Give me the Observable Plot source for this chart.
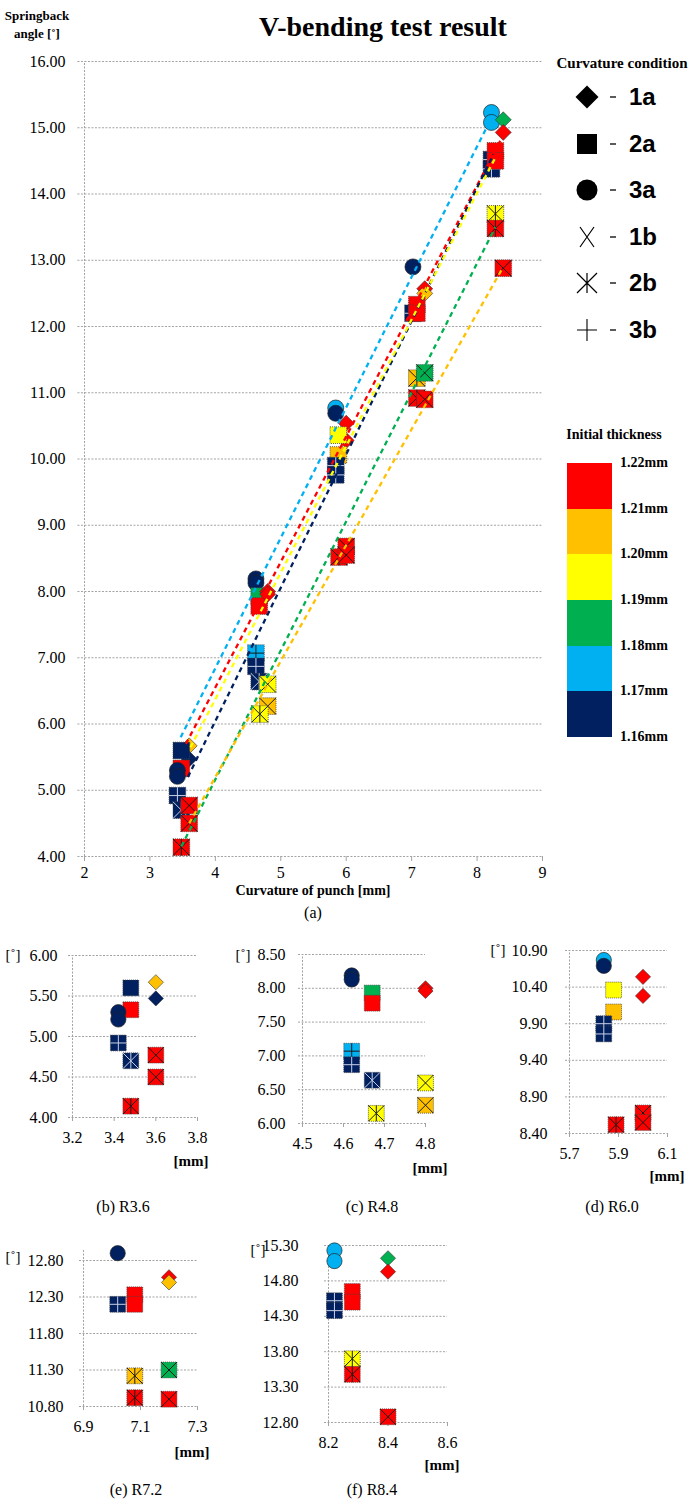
<!DOCTYPE html>
<html><head><meta charset="utf-8">
<script src="https://cdn.jsdelivr.net/npm/d3@7"></script>
<script src="https://cdn.jsdelivr.net/npm/@observablehq/plot@0.6"></script>
<style>
html,body{margin:0;padding:0;background:#fff;}
#root{position:relative;width:700px;height:1506px;background:#fff;overflow:hidden;font-family:'Liberation Serif','Times New Roman',serif;color:#000;}
.t{position:absolute;white-space:nowrap;line-height:1;transform:translate(-50%,-50%);}
.l{position:absolute;white-space:nowrap;line-height:1;transform:translate(0,-50%);}
</style></head>
<body><div id="root"></div>
<script>
// ---------------- DATA ----------------
const thicknessLevels = ["1.22mm","1.21mm","1.20mm","1.19mm","1.18mm","1.17mm","1.16mm"];
const thicknessColors = ["#FF0000","#FFC000","#FFFF00","#00B050","#00B0F0","#002060"];
const conditionNames = ["1a","2a","3a","1b","2b","3b"];

const pointGroup = [
  "R3.6","R3.6","R3.6","R3.6","R3.6","R3.6","R3.6","R3.6","R3.6","R3.6","R3.6",
  "R4.8","R4.8","R4.8","R4.8","R4.8","R4.8","R4.8","R4.8","R4.8","R4.8","R4.8","R4.8",
  "R6.0","R6.0","R6.0","R6.0","R6.0","R6.0","R6.0","R6.0","R6.0","R6.0","R6.0",
  "R7.2","R7.2","R7.2","R7.2","R7.2","R7.2","R7.2","R7.2","R7.2","R7.2",
  "R8.4","R8.4","R8.4","R8.4","R8.4","R8.4","R8.4","R8.4","R8.4","R8.4","R8.4"
];
const pointCondition = [
  "1a","1a","2a","2a","3a","3a","3b","2b","1b","1b","2b",
  "3a","3a","2a","2a","1a","1a","3b","3b","2b","1b","1b","2b",
  "3a","3a","1a","1a","2a","2a","3b","3b","2b","1b","1b",
  "3a","1a","1a","3b","2a","2a","2b","1b","2b","1b",
  "3a","3a","1a","1a","3b","3b","2a","2a","2b","2b","1b"
];
// index into thicknessColors (0 = 1.21-1.22mm ... 5 = 1.16-1.17mm)
const pointBand = [
  1,5,5,0,5,5,5,5,0,0,0,
  5,5,3,0,0,0,4,5,5,2,1,2,
  4,5,0,0,2,1,5,5,0,0,0,
  5,0,1,5,0,0,1,3,0,0,
  4,4,3,0,5,5,0,0,2,0,0
];
const pointX = [
  3.60,3.60,3.48,3.48,3.42,3.42,3.42,3.48,3.60,3.60,3.48,
  4.62,4.62,4.67,4.67,4.80,4.80,4.62,4.62,4.67,4.80,4.80,4.68,
  5.84,5.84,6.00,6.00,5.88,5.88,5.84,5.84,5.89,6.00,6.00,
  7.02,7.20,7.20,7.02,7.08,7.08,7.08,7.20,7.08,7.20,
  8.22,8.22,8.40,8.40,8.22,8.22,8.28,8.28,8.28,8.28,8.40
];
const pointY = [
  5.67,5.47,5.60,5.33,5.30,5.21,4.92,4.70,4.77,4.50,4.14,
  8.19,8.13,7.93,7.78,8.00,7.96,7.07,6.87,6.64,6.60,6.27,6.15,
  10.77,10.69,10.54,10.28,10.36,10.06,9.90,9.76,8.52,8.68,8.55,
  12.90,12.57,12.50,12.20,12.33,12.20,11.22,11.30,10.92,10.90,
  15.23,15.08,15.12,14.93,14.52,14.38,14.65,14.50,13.70,13.48,12.88
];

// dashed trend lines (one per thickness colour)
const trendBand = [4,0,5,2,3,1];
const trendX1 = [3.47,3.55,3.58,3.62,3.48,3.60];
const trendY1 = [5.80,5.70,5.20,5.65,4.15,4.50];
const trendX2 = [8.22,8.38,8.25,8.28,8.28,8.40];
const trendY2 = [15.15,14.85,14.60,14.55,13.50,12.90];

const mainXTicks = [2,3,4,5,6,7,8,9];
const mainYTicks = [4,5,6,7,8,9,10,11,12,13,14,15,16];

const subNames = ["R3.6","R4.8","R6.0","R7.2","R8.4"];
const subCaptions = ["(b) R3.6","(c) R4.8","(d) R6.0","(e) R7.2","(f) R8.4"];
const subXDomains = [[3.2,3.8],[4.5,4.8],[5.7,6.1],[6.9,7.3],[8.2,8.6]];
const subYDomains = [[4,6],[6,8.5],[8.4,10.9],[10.8,12.8],[12.8,15.3]];
const subXTicks = [[3.2,3.4,3.6,3.8],[4.5,4.6,4.7,4.8],[5.7,5.9,6.1],[6.9,7.1,7.3],[8.2,8.4,8.6]];
const subYTicks = [[4,4.5,5,5.5,6],[6,6.5,7,7.5,8,8.5],[8.4,8.9,9.4,9.9,10.4,10.9],[10.8,11.3,11.8,12.3,12.8],[12.8,13.3,13.8,14.3,14.8,15.3]];

// ---------------- LAYOUT ----------------
const subLayout = [
  {fx:[72,197],  fy:[955,1117], gap:15, deg:[13,955],  mm:[191,1161], cap:[123,1207], axisTop:null},
  {fx:[302,425], fy:[954,1123], gap:17, deg:[243,955], mm:[430,1168], cap:[372,1207], axisTop:null},
  {fx:[569,667], fy:[950,1133], gap:22, deg:[498,950], mm:[667,1176], cap:[612,1207], axisTop:null},
  {fx:[83,197],  fy:[1260,1406],gap:20, deg:[13,1257], mm:[192,1452], cap:[136,1490], axisTop:12.95},
  {fx:[328,447], fy:[1245,1422],gap:30, deg:[258,1250],mm:[442,1465], cap:[372,1490], axisTop:null}
];
const SERIF = "Liberation Serif";

const root = document.getElementById("root");
function txt(s, x, y, cls, css) {
  const el = document.createElement("div");
  el.className = cls || "t";
  el.textContent = s;
  el.style.cssText = `left:${x}px;top:${y}px;` + (css || "");
  root.appendChild(el);
  return el;
}
function icon(x, y, w, h, inner) {
  const el = document.createElement("div");
  el.style.cssText = `position:absolute;left:${x - w/2}px;top:${y - h/2}px;width:${w}px;height:${h}px;`;
  el.innerHTML = `<svg width="${w}" height="${h}" viewBox="${-w/2} ${-h/2} ${w} ${h}" style="display:block">${inner}</svg>`;
  root.appendChild(el);
}
function svgStyle(left, top) {
  return `position:absolute;left:${left}px;top:${top}px;overflow:visible;background:transparent;font-family:'Liberation Serif',serif;font-size:16px;color:#000;`;
}

// custom line symbols drawn inside the square markers
const symX = {draw(c, size){ const r = Math.sqrt(size)/2; c.moveTo(-r,-r); c.lineTo(r,r); c.moveTo(r,-r); c.lineTo(-r,r); }};
const symZhe = {draw(c, size){ const r = Math.sqrt(size)/2; c.moveTo(-r,-r); c.lineTo(r,r); c.moveTo(r,-r); c.lineTo(-r,r); c.moveTo(0,-r); c.lineTo(0,r); }};
const symPlus = {draw(c, size){ const r = Math.sqrt(size)/2; c.moveTo(-r,0); c.lineTo(r,0); c.moveTo(0,-r); c.lineTo(0,r); }};
const overlaySym = {"1b": symX, "2b": symZhe, "3b": symPlus};

const points = pointX.map((x, i) => ({
  x, y: pointY[i], cond: pointCondition[i], group: pointGroup[i],
  fill: thicknessColors[pointBand[i]],
  line: pointBand[i] === 5 ? "#c9d0e6" : "#1a1a1a"
}));
const trends = trendX1.map((x1, i) => ({x1, y1: trendY1[i], x2: trendX2[i], y2: trendY2[i], color: thicknessColors[trendBand[i]]}));

function pointMarks(data, s) {
  const marks = [];
  for (const d of data) {
    if (d.cond === "1a") {
      marks.push(Plot.dot([d], {x: "x", y: "y", symbol: "diamond2", r: 7.2*s, fill: "fill", stroke: "#333", strokeWidth: 0.6}));
    } else if (d.cond === "3a") {
      marks.push(Plot.dot([d], {x: "x", y: "y", symbol: "circle", r: 8*s, fill: "fill", stroke: "#222", strokeWidth: 0.7}));
    } else {
      marks.push(Plot.dot([d], {x: "x", y: "y", symbol: "square", r: 9.4*s, fill: "fill", stroke: "#444", strokeWidth: 0.8, strokeDasharray: "1,1"}));
      if (overlaySym[d.cond]) marks.push(Plot.dot([d], {x: "x", y: "y", symbol: overlaySym[d.cond], r: 9.4*s, fill: "none", stroke: "line", strokeWidth: 1}));
    }
  }
  return marks;
}

const gridStroke = "#a3a3a3";

// ---------------- MAIN CHART ----------------
const mainPlot = Plot.plot({
  width: 560, height: 900,
  marginLeft: 84, marginRight: 18, marginTop: 61, marginBottom: 44,
  x: {domain: [2, 9]}, y: {domain: [4, 16]},
  color: {type: "identity"},
  style: svgStyle(0, 0),
  marks: [
    Plot.ruleY(mainYTicks, {x1: 1.9, x2: 9, stroke: gridStroke, strokeDasharray: "2,1.5"}),
    Plot.ruleX([2], {y1: 4, y2: 16, stroke: gridStroke, strokeDasharray: "2,1.5"}),
    Plot.ruleX(mainXTicks, {y1: 4, y2: 3.925, stroke: gridStroke}),
    Plot.axisY(mainYTicks, {tickSize: 0, tickPadding: 19, tickFormat: d3.format(".2f"), label: null, fontFamily: SERIF, fontSize: 16}),
    Plot.axisX(mainXTicks, {tickSize: 0, tickPadding: 10, label: null, fontFamily: SERIF, fontSize: 16}),
    ...pointMarks(points, 1),
    Plot.link(trends, {x1: "x1", y1: "y1", x2: "x2", y2: "y2", stroke: "color", strokeWidth: 2.3, strokeDasharray: "5,4"})
  ]
});
root.appendChild(mainPlot);

// texts of main chart
txt("Springback", 37, 15, "t", "font-weight:bold;font-size:13px;");
txt("angle [˚]", 37, 33, "t", "font-weight:bold;font-size:13px;");
txt("V-bending test result", 383, 27, "t", "font-weight:bold;font-size:28px;");
txt("Curvature of punch [mm]", 313, 891, "t", "font-weight:bold;font-size:14px;");
txt("(a)", 313, 913, "t", "font-size:16px;");

// condition legend
txt("Curvature condition", 622, 63, "t", "font-weight:bold;font-size:15px;");
const legendIcons = [
  `<polygon points="0,-11.5 11.5,0 0,11.5 -11.5,0" fill="#000"/>`,
  `<rect x="-10" y="-10" width="20" height="20" fill="#000"/>`,
  `<circle r="10.5" fill="#000"/>`,
  `<path d="M-7,-10L7,10M7,-10L-7,10" stroke="#000" stroke-width="1.2" fill="none"/>`,
  `<path d="M-10,-10L10,10M10,-10L-10,10M0,-10L0,10" stroke="#000" stroke-width="1.2" fill="none"/>`,
  `<path d="M-10,0L10,0M0,-11L0,11" stroke="#000" stroke-width="1.1" fill="none"/>`
];
conditionNames.forEach((name, i) => {
  const y = 97 + i * 46.6;
  icon(587, y, 26, 26, legendIcons[i]);
  icon(613, y, 8, 4, `<rect x="-3" y="-0.8" width="6" height="1.6" fill="#333"/>`);
  txt(name, 629, y, "l", "font-family:'Liberation Sans',Arial,sans-serif;font-weight:bold;font-size:24px;");
});

// thickness colour bar
txt("Initial thickness", 614, 435, "t", "font-weight:bold;font-size:14px;");
const bandH = 274 / thicknessColors.length;
thicknessColors.forEach((c, i) => {
  const el = document.createElement("div");
  el.style.cssText = `position:absolute;left:567px;top:${463 + i*bandH}px;width:45px;height:${bandH + 0.5}px;background:${c};`;
  root.appendChild(el);
});
thicknessLevels.forEach((s, i) => txt(s, 620, 463 + i*bandH, "l", "font-weight:bold;font-size:14px;"));

// ---------------- SUB CHARTS ----------------
subNames.forEach((name, k) => {
  const L = subLayout[k];
  const ML = 75, MT = 30, MR = 30, MB = 45;
  const w = L.fx[1] - L.fx[0] + ML + MR, h = L.fy[1] - L.fy[0] + MT + MB;
  const [x0, x1] = subXDomains[k], [y0, y1] = subYDomains[k];
  const pxX = (L.fx[1] - L.fx[0]) / (x1 - x0), pxY = (L.fy[1] - L.fy[0]) / (y1 - y0);
  const p = Plot.plot({
    width: w, height: h, marginLeft: ML, marginRight: MR, marginTop: MT, marginBottom: MB,
    x: {domain: subXDomains[k]}, y: {domain: subYDomains[k]},
    color: {type: "identity"},
    style: svgStyle(L.fx[0] - ML, L.fy[0] - MT),
    marks: [
      Plot.ruleY(subYTicks[k], {x1: x0 - 4 / pxX, x2: x1, stroke: gridStroke, strokeDasharray: "2,1.5"}),
      Plot.ruleX([x0], {y1: y0, y2: L.axisTop ?? y1, stroke: gridStroke, strokeDasharray: "2,1.5"}),
      Plot.ruleX(subXTicks[k], {y1: y0, y2: y0 - 4 / pxY, stroke: gridStroke}),
      Plot.axisY(subYTicks[k], {tickSize: 0, tickPadding: L.gap, tickFormat: d3.format(".2f"), label: null, fontFamily: SERIF, fontSize: 16}),
      Plot.axisX(subXTicks[k], {tickSize: 0, tickPadding: 14, tickFormat: d3.format(".1f"), label: null, fontFamily: SERIF, fontSize: 16}),
      ...pointMarks(points.filter(d => d.group === name), 0.95)
    ]
  });
  root.appendChild(p);
  txt("[˚]", L.deg[0], L.deg[1], "t", "font-size:15px;");
  txt("[mm]", L.mm[0], L.mm[1], "t", "font-weight:bold;font-size:15px;");
  txt(subCaptions[k], L.cap[0], L.cap[1], "t", "font-size:16px;");
});
</script></body></html>
